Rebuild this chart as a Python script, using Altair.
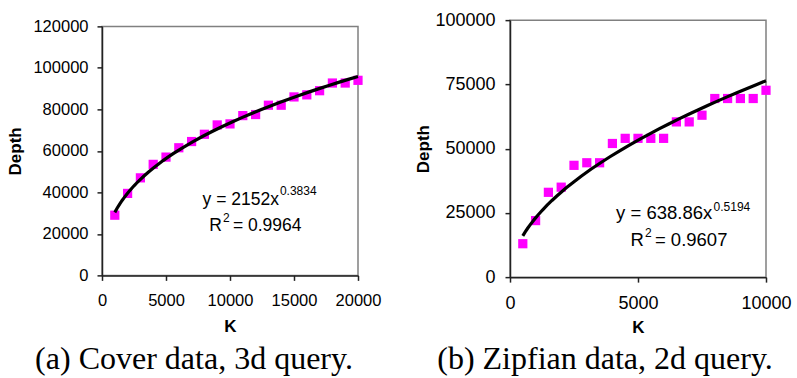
import altair as alt
import pandas as pd

# ---- data ----
k_cover = [1000, 2000, 3000, 4000, 5000, 6000, 7000, 8000, 9000, 10000,
           11000, 12000, 13000, 14000, 15000, 16000, 17000, 18000, 19000, 20000]
depth_cover = [29000, 39500, 47000, 53500, 57000, 61500, 64500, 68000, 72500, 73000,
               77000, 77500, 82000, 82000, 86000, 87000, 89000, 92700, 92700, 94000]

k_zipf = [500, 1000, 1500, 2000, 2500, 3000, 3500, 4000, 4500, 5000,
          5500, 6000, 6500, 7000, 7500, 8000, 8500, 9000, 9500, 10000]
depth_zipf = [13000, 22000, 33000, 35000, 43500, 44500, 44500, 52000, 54000, 54000,
              54000, 54000, 60400, 60400, 63000, 69500, 69500, 69500, 69500, 72700]

cover_ticks = [0, 5000, 10000, 15000, 20000]
cover_yticks = [0, 20000, 40000, 60000, 80000, 100000, 120000]
zipf_ticks = [0, 5000, 10000]
zipf_yticks = [0, 25000, 50000, 75000, 100000]

eq_cover = "y = 2152x"
exp_cover = "0.3834"
r2_cover = "= 0.9964"
eq_zipf = "y = 638.86x"
exp_zipf = "0.5194"
r2_zipf = "= 0.9607"

caption_a = "(a) Cover data, 3d query."
caption_b = "(b) Zipfian data, 2d query."

SANS = "Liberation Sans"
SERIF = "Liberation Serif"
MAGENTA = "#FF00FF"


def panel(ks, ds, xdom, xticks, ydom, yticks, extent, ann, caption, cap_dx, cap_off,
          label_size, xlabel_pad, xtitle_pad, ylabel_pad, ytitle_pad, spacer, w, h):
    df = pd.DataFrame({"K": ks, "Depth": ds})
    xs = alt.Scale(domain=xdom, nice=False, zero=False)
    ys = alt.Scale(domain=ydom, nice=False)
    xax = alt.Axis(values=xticks, format="d", title="K", grid=False, tickSize=5,
                   labelFlush=False, labelFontSize=label_size,
                   labelPadding=xlabel_pad, titlePadding=xtitle_pad)
    yax = alt.Axis(values=yticks, format="d", title="Depth", grid=False, tickSize=5,
                   labelFlush=False, labelFontSize=label_size,
                   labelPadding=ylabel_pad, titlePadding=ytitle_pad)
    base = alt.Chart(df)
    pts = base.mark_square(color=MAGENTA, size=85, opacity=1).encode(
        x=alt.X("K:Q", scale=xs, axis=xax),
        y=alt.Y("Depth:Q", scale=ys, axis=yax),
    )
    fit = base.transform_regression("K", "Depth", method="pow", extent=extent).mark_line(
        color="black", strokeWidth=3.2
    ).encode(x=alt.X("K:Q", scale=xs), y=alt.Y("Depth:Q", scale=ys))

    adf = pd.DataFrame(ann)
    layers = [pts, fit]
    for (align, size), sub in adf.groupby(["align", "size"]):
        layers.append(
            alt.Chart(sub).mark_text(align=align, baseline="middle", font=SANS,
                                     fontSize=float(size), color="black").encode(
                x=alt.X("x:Q", scale=xs), y=alt.Y("y:Q", scale=ys), text="t:N")
        )
    tp = dict(orient="bottom", font=SERIF, fontSize=32, fontWeight="normal",
              color="black", anchor="middle", dx=cap_dx, offset=cap_off)
    if spacer > 0:
        tp.update(subtitle=" ", subtitleFontSize=spacer, subtitlePadding=0,
                  subtitleColor="white")
    return alt.layer(*layers).properties(
        width=w, height=h, title=alt.TitleParams(caption, **tp),
    )


ann_a = {
    "x": [13828, 13900, 9375, 9453, 10230],
    "y": [36145, 40482, 23614, 27470, 23614],
    "t": [eq_cover, exp_cover, "R", "2", r2_cover],
    "align": ["right", "left", "right", "left", "left"],
    "size": [17.5, 12, 17.5, 12, 17.5],
}
ann_b = {
    "x": [7900, 7950, 5234, 5273, 5660],
    "y": [24903, 27237, 14397, 17120, 14397],
    "t": [eq_zipf, exp_zipf, "R", "2", r2_zipf],
    "align": ["right", "left", "right", "left", "left"],
    "size": [18.5, 12, 18.5, 12, 18.5],
}

left = panel(k_cover, depth_cover, [0, 20000], cover_ticks, [0, 120000], cover_yticks,
             [1000, 20000], ann_a, caption_a, -36, 9, 16.5, 12, 10, 9, 8, 0, 256, 249)
right = panel(k_zipf, depth_zipf, [0, 10000], zipf_ticks, [0, 100000], zipf_yticks,
              [500, 10000], ann_b, caption_b, -33, 9, 18, 12, 7, 10, 2, 5, 256, 257)

chart = alt.hconcat(left, right, spacing=32, center=True).properties(
    padding={"left": 6, "top": 10, "right": 0, "bottom": 0},
    background="white",
).configure_view(stroke="#808080", strokeWidth=1.5).configure_axis(
    domainColor="#222222", domainWidth=1.5, tickColor="#222222", tickWidth=1.5,
    labelFont=SANS, labelColor="black",
    titleFont=SANS, titleFontSize=17, titleFontWeight="bold", titleColor="black",
)

chart.save("out.html", embed_options={"renderer": "svg", "actions": False})
